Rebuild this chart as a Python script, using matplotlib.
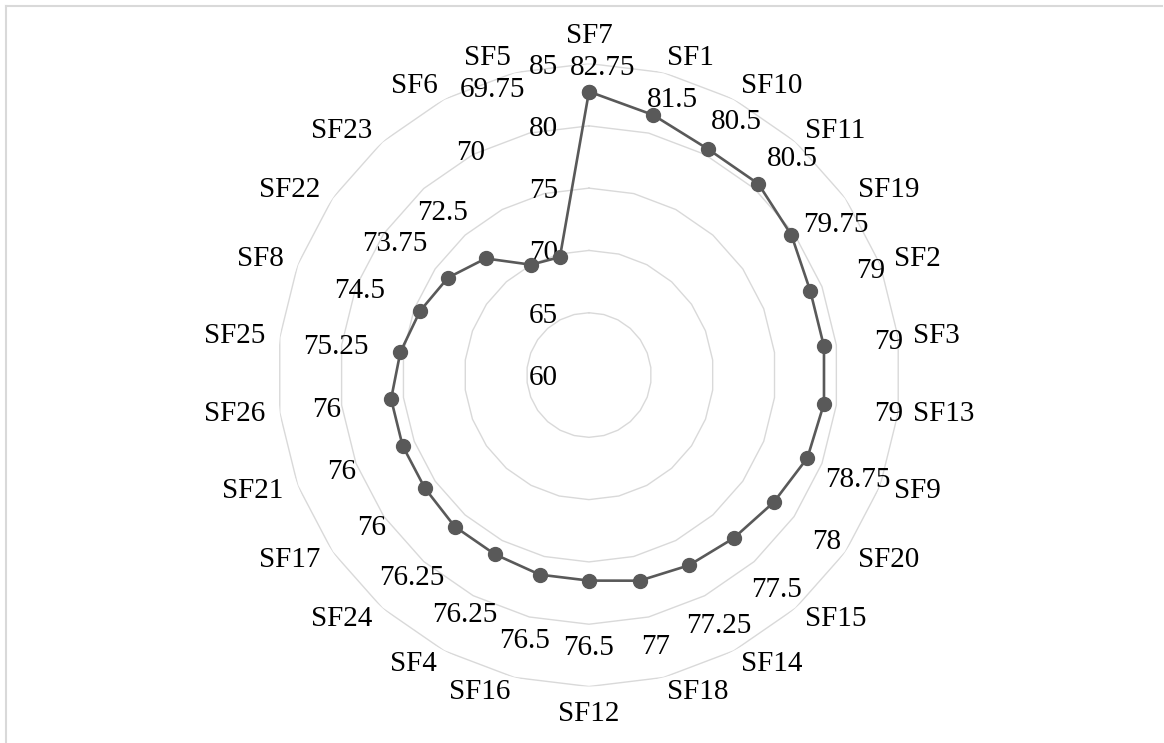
import matplotlib.pyplot as plt
import numpy as np
from matplotlib.lines import Line2D
from matplotlib.transforms import offset_copy

# categories run clockwise from the top
categories = ['SF7', 'SF1', 'SF10', 'SF11', 'SF19', 'SF2', 'SF3', 'SF13', 'SF9',
              'SF20', 'SF15', 'SF14', 'SF18', 'SF12', 'SF16', 'SF4', 'SF24',
              'SF17', 'SF21', 'SF26', 'SF25', 'SF8', 'SF22', 'SF23', 'SF6', 'SF5']
values = [82.75, 81.5, 80.5, 80.5, 79.75, 79, 79, 79, 78.75,
          78, 77.5, 77.25, 77, 76.5, 76.5, 76.25, 76.25,
          76, 76, 76, 75.25, 74.5, 73.75, 72.5, 70, 69.75]
ring_levels = [60, 65, 70, 75, 80, 85]

# value labels sit ~5 units outside their point, a few were nudged by hand
label_gap = 5.2
label_nudge = {  # category: (angle shift in degrees, label radius)
    'SF7': (2.6, 84.9),
    'SF1': (2.8, 83.3),
    'SF10': (2.2, 83.7),
    'SF11': (1.3, 84.0),
    'SF19': (2.7, 83.3),
    'SF9': (0.0, 83.1),
    'SF6': (0.0, 80.4),
    'SF5': (-4.6, 84.4),
}

plt.rcParams['font.family'] = ['Liberation Serif', 'DejaVu Serif']
plt.rcParams['font.size'] = 21

n = len(categories)
theta = np.linspace(0, 2 * np.pi, n, endpoint=False)
theta_closed = np.append(theta, theta[0])

fig = plt.figure(figsize=(11.64, 7.43), dpi=100)
ax = fig.add_axes([0.2384, 0.076, 0.5352, 0.8385], projection='polar')
ax.set_theta_zero_location('N')
ax.set_theta_direction(-1)
ax.set_ylim(ring_levels[0], ring_levels[-1])
ax.grid(False)
ax.set_xticks([])
ax.set_yticks([])
ax.spines['polar'].set_visible(False)

grid_color = '#d9d9d9'
line_color = '#595959'

# polygon rings instead of circles
for lev in ring_levels[1:]:
    ax.plot(theta_closed, [lev] * (n + 1), color=grid_color, lw=1.0, zorder=1)

# radial axis numbers, just left of the vertical
tick_tr = offset_copy(ax.transData, fig=fig, x=-31, y=0, units='dots')
for lev in ring_levels:
    ax.text(0, lev, str(lev), transform=tick_tr, ha='right',
            va='center_baseline', color='black', zorder=2)

vals_closed = values + values[:1]
ax.plot(theta_closed, vals_closed, color=line_color, lw=1.9, marker='o',
        ms=10, mfc=line_color, mec=line_color, zorder=3, clip_on=False)

# category names around the outside
for t, cat in zip(theta, categories):
    s, c = np.sin(t), np.cos(t)
    if abs(s) < 1e-6:
        ha = 'center'
        va = 'bottom' if c > 0 else 'top'
    else:
        ha = 'left' if s > 0 else 'right'
        va = 'center'
    ax.text(t, 86.2, cat, ha=ha, va=va, color='black')

# data labels
for t, cat, v in zip(theta, categories, values):
    dt, r = label_nudge.get(cat, (0.0, v + label_gap))
    ax.text(t + np.radians(dt), r, f'{v:g}', ha='center',
            va='center_baseline', color='black', zorder=4)

# chart frame: top and left edges only
fig.add_artist(Line2D([6 / 1164, 1162 / 1164], [1 - 5.5 / 743, 1 - 5.5 / 743],
                      color=grid_color, lw=1.5))
fig.add_artist(Line2D([6 / 1164, 6 / 1164], [0, 1 - 5.5 / 743],
                      color=grid_color, lw=1.5))

fig.savefig('out.png', dpi=100)
